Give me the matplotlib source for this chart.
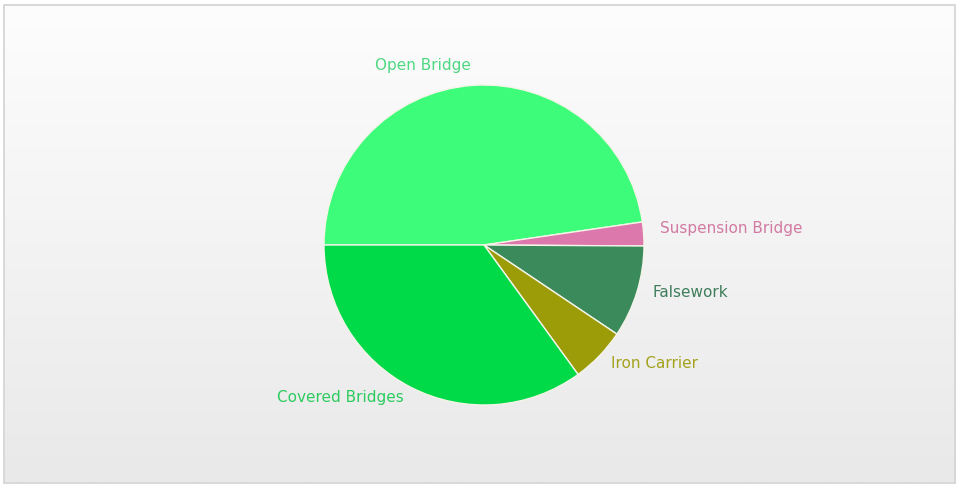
import numpy as np
from matplotlib import pyplot as plt
from matplotlib.patches import Rectangle
from matplotlib.colors import LinearSegmentedColormap

# bridge types and their share (percent)
categories = ["Open Bridge", "Suspension Bridge", "Falsework", "Iron Carrier", "Covered Bridges"]
shares = [47.7, 2.4, 9.3, 5.6, 35.0]

wedge_colors = ["#3dfc79", "#dd78ac", "#3a8a5c", "#9c9c08", "#00d948"]
label_colors = ["#4ed882", "#d27aa2", "#3f7d5b", "#a3a21c", "#2ccb5e"]

W, H = 958, 484
cx, cy = 484, 239

fig = plt.figure(figsize=(W / 100, H / 100), dpi=100)
ax = fig.add_axes([0, 0, 1, 1])

# panel background: light vertical gradient with a thin grey frame
grad = np.linspace(0, 1, 256).reshape(-1, 1)
ax.imshow(grad, cmap=LinearSegmentedColormap.from_list("bg", ["#fdfdfd", "#e9e9e9"]),
          extent=(5, 955, 2, 479), aspect="auto", zorder=0)
ax.add_patch(Rectangle((4.5, 1.5), 950.5, 478, fill=False, edgecolor="#d2d2d2", lw=1.2, zorder=1))

wedges, texts = ax.pie(shares, labels=categories, colors=wedge_colors, startangle=180,
                       counterclock=False, radius=160, center=(cx, cy), labeldistance=1.1,
                       wedgeprops=dict(edgecolor="#f4f4e8", linewidth=1.0),
                       textprops=dict(fontsize=11, family="DejaVu Sans"), frame=True)
for t, c in zip(texts, label_colors):
    x, y = t.get_position()
    t.set_color(c)
    t.set_horizontalalignment("left" if x > cx else "right")
    t.set_position((x, y + 4))

ax.set_xlim(0, W)
ax.set_ylim(0, H)
ax.set_aspect("auto")
ax.axis("off")

fig.savefig("out.png", dpi=100)
